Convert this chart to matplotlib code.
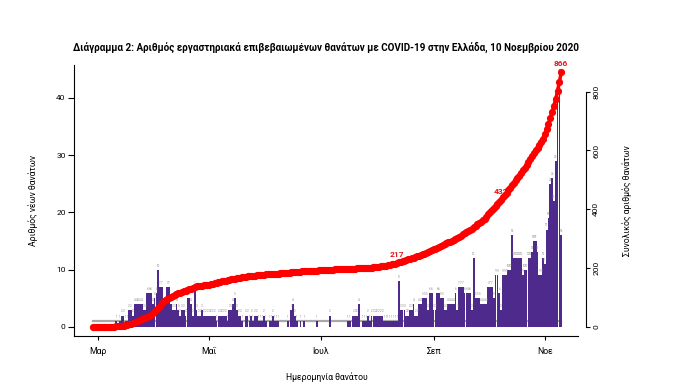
import numpy as np
import pandas as pd
import matplotlib
matplotlib.use("Agg")
import matplotlib.pyplot as plt
import matplotlib.dates as mdates

plt.rcParams['font.family'] = ['Roboto', 'DejaVu Sans']

# daily new deaths (bars), 27 Feb - 10 Nov 2020
daily_feb = [0, 0, 0]
daily_mar = [0, 0, 0, 0, 0, 0, 0, 0, 0, 0, 1, 0, 1, 2, 2, 1, 1, 3, 3, 2,
             4, 4, 4, 4, 4, 3, 3, 6, 6, 6, 4]
daily_apr = [5, 6, 10, 7, 7, 4, 4, 7, 7, 4, 3, 3, 4, 3, 2, 3, 3, 2, 5, 5,
             4, 2, 7, 3, 2, 2, 3, 2, 2, 2]
daily_may = [2, 2, 2, 2, 1, 2, 2, 2, 2, 2, 1, 3, 3, 4, 5, 3, 2, 2, 1, 0,
             2, 2, 1, 2, 1, 2, 2, 1, 1, 1, 2]
daily_jun = [1, 0, 1, 1, 2, 1, 1, 1, 0, 0, 0, 0, 1, 0, 3, 4, 2, 1, 0, 1,
             0, 1, 0, 0, 0, 0, 0, 0, 1, 0]
daily_jul = [0, 0, 0, 0, 0, 2, 0, 0, 0, 0, 0, 0, 0, 0, 0, 1, 1, 0, 2, 2,
             2, 4, 0, 1, 1, 1, 2, 1, 2, 2, 2]
daily_aug = [2, 2, 2, 2, 1, 1, 1, 1, 1, 1, 1, 1, 8, 3, 3, 3, 2, 2, 3, 3,
             4, 2, 2, 4, 4, 5, 5, 5, 3, 6, 6]
daily_sep = [3, 3, 6, 6, 5, 5, 3, 3, 4, 4, 4, 4, 6, 3, 7, 7, 7, 6, 6, 6,
             6, 3, 12, 5, 5, 5, 4, 4, 4, 4]
daily_oct = [7, 7, 7, 5, 9, 9, 6, 3, 9, 9, 9, 10, 10, 16, 12, 12, 12, 12, 12, 9,
             10, 10, 12, 12, 13, 15, 15, 13, 9, 9, 12]
daily_nov = [11, 17, 19, 25, 26, 22, 29, 41, 44, 16]

# cumulative deaths (red line)
cum_feb = [0, 0, 0]
cum_mar = [0, 0, 0, 0, 0, 0, 0, 0, 0, 0, 1, 1, 2, 3, 4, 5, 6, 8, 10, 12,
           15, 17, 20, 22, 25, 28, 31, 34, 37, 41, 46]
cum_apr = [52, 58, 65, 72, 79, 86, 90, 94, 98, 101, 104, 107, 110, 113, 115, 118, 120, 122, 125, 127,
           130, 132, 135, 137, 138, 139, 140, 141, 142, 142]
cum_may = [143, 145, 147, 148, 150, 151, 153, 154, 156, 157, 158, 160, 161, 163, 164, 165, 166, 167, 168, 169,
           170, 171, 172, 172, 173, 174, 175, 175, 176, 177, 177]
cum_jun = [178, 178, 179, 179, 180, 180, 181, 181, 182, 182, 183, 183, 184, 184, 185, 185, 186, 186, 187, 187,
           188, 188, 189, 189, 190, 190, 190, 191, 191, 192]
cum_jul = [192, 192, 193, 193, 193, 194, 194, 194, 195, 195, 195, 196, 196, 196, 197, 197, 197, 198, 198, 198,
           199, 199, 199, 200, 200, 200, 201, 201, 201, 202, 202]
cum_aug = [203, 204, 205, 206, 207, 208, 209, 210, 212, 213, 215, 217, 219, 221, 223, 225, 227, 229, 231, 233,
           235, 237, 239, 241, 243, 246, 249, 252, 255, 258, 261]
cum_sep = [263, 266, 269, 272, 275, 278, 281, 284, 287, 290, 293, 296, 299, 302, 306, 310, 314, 318, 322, 326,
           330, 334, 338, 343, 348, 353, 358, 363, 368, 375]
cum_oct = [383, 390, 397, 404, 411, 418, 425, 432, 440, 448, 456, 464, 472, 481, 490, 498, 506, 514, 523, 532,
           541, 551, 561, 570, 580, 590, 600, 610, 620, 630, 640]
cum_nov = [655, 672, 690, 710, 730, 752, 776, 802, 833, 866]

label_dates = ['2020-08-12', '2020-10-08', '2020-11-10']
month_ticks = ['2020-03-01', '2020-05-01', '2020-07-01', '2020-09-01', '2020-11-01']
month_labels = ['Μαρ', 'Μαΐ', 'Ιουλ', 'Σεπ', 'Νοε']

daily = np.array(daily_feb + daily_mar + daily_apr + daily_may + daily_jun +
                 daily_jul + daily_aug + daily_sep + daily_oct + daily_nov)
cumulative = np.array(cum_feb + cum_mar + cum_apr + cum_may + cum_jun +
                      cum_jul + cum_aug + cum_sep + cum_oct + cum_nov)
dates = pd.date_range('2020-02-27', '2020-11-10', freq='D')
x = mdates.date2num(dates)

fig = plt.figure(figsize=(6.92, 3.89), dpi=100)
ax = fig.add_axes([74/692, 1-336/389, 504/692, 271/389])

# grey reference line under the bars
ax.plot([x[0], x[-1]], [1, 1], color='#a8a8a8', lw=1.6, zorder=1)
ax.bar(x, daily, width=0.95, color='#4d2a8c', linewidth=0, zorder=2)
for xi, v in zip(x, daily):
    if v > 0:
        ax.annotate(str(v), (xi, v), xytext=(0, 1.5), textcoords='offset points',
                    ha='center', va='bottom', fontsize=2.2, color='#8a8a8a', zorder=3)

mar1 = mdates.date2num(pd.Timestamp('2020-03-01'))
ax.set_xlim(mar1 - 13.2, mar1 + 263.2)
ax.set_ylim(-1.57, 45.7)
ax.spines['top'].set_visible(False)
ax.spines['right'].set_visible(False)
ax.set_yticks([0, 10, 20, 30, 40])
ax.set_xticks(mdates.date2num(pd.to_datetime(month_ticks)))
ax.set_xticklabels(month_labels)
ax.tick_params(axis='y', length=4, width=0.8, pad=2, labelsize=6)
ax.tick_params(axis='x', length=3, width=0.8, pad=5, labelsize=6.2)
ax.set_ylabel('Αριθμός νέων θανάτων', fontsize=6.2)
ax.yaxis.set_label_coords(-0.071, 0.5)
ax.set_xlabel('Ημερομηνία θανάτου', fontsize=6.2)
ax.xaxis.set_label_coords(0.502, -0.133)

ax2 = ax.twinx()
ax2.plot(x, cumulative, color='#ff0000', lw=2.5, marker='o', ms=5.2, mew=0, zorder=4)
for d in label_dates:
    xi = mdates.date2num(pd.Timestamp(d))
    v = cumulative[dates.get_loc(pd.Timestamp(d))]
    ax2.annotate(str(v), (xi, v), xytext=(0, 6), textcoords='offset points',
                 ha='center', va='center', fontsize=6, color='#e8141c', weight='bold')
ax2.set_ylim(-31.7, 890.9)
ax2.set_yticks([0, 200, 400, 600, 800])
for s in ['top', 'left', 'bottom']:
    ax2.spines[s].set_visible(False)
ax2.spines['right'].set_position(('outward', 6))
ax2.spines['right'].set_bounds(0, 800)
ax2.tick_params(axis='y', length=3, width=0.8, pad=2, labelsize=6)
for lab in ax2.get_yticklabels():
    lab.set_rotation(90)
    lab.set_va('center')
ax2.set_ylabel('Συνολικός αριθμός θανάτων', fontsize=6.2, rotation=90)
ax2.yaxis.set_label_coords(1.087, 0.5)

fig.text(326/692, 1-47/389,
         'Διάγραμμα 2: Αριθμός εργαστηριακά επιβεβαιωμένων θανάτων με COVID-19 στην Ελλάδα, 10 Νοεμβρίου 2020',
         ha='center', va='center', fontsize=7.1, weight='bold')

fig.savefig('out.png', dpi=100)
